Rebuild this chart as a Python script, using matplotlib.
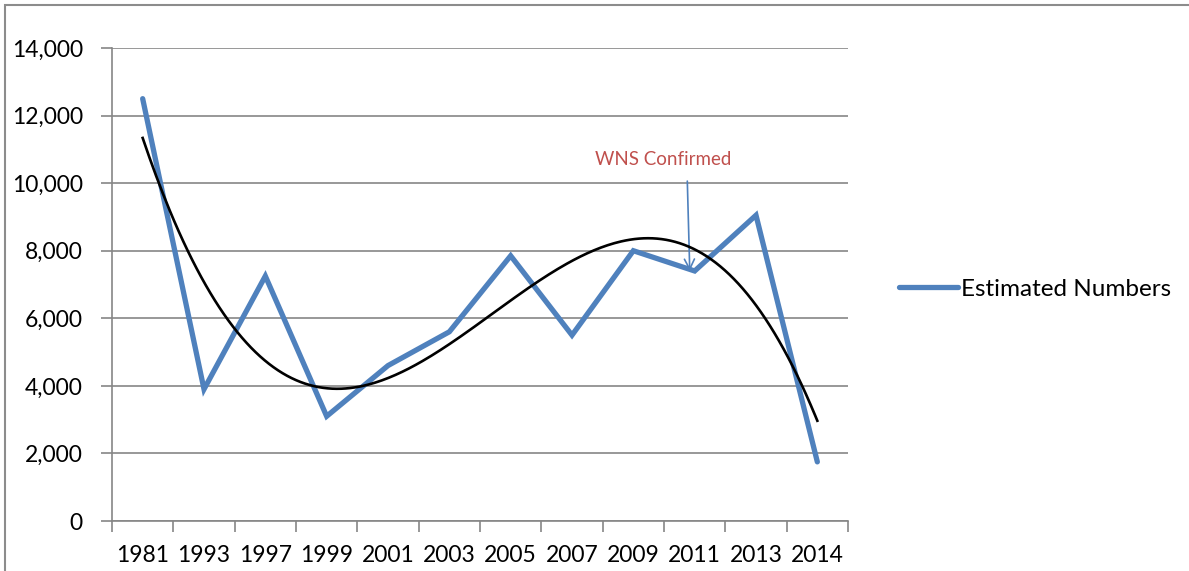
import numpy as np
import matplotlib.pyplot as plt
from matplotlib.patches import Rectangle

years = ['1981', '1993', '1997', '1999', '2001', '2003', '2005', '2007', '2009', '2011', '2013', '2014']
estimated = [12500, 3900, 7250, 3100, 4600, 5600, 7850, 5500, 8000, 7400, 9050, 1750]
yticks = [0, 2000, 4000, 6000, 8000, 10000, 12000, 14000]

plt.rcParams['font.family'] = ['Lato', 'DejaVu Sans']

fig = plt.figure(figsize=(11.89, 5.71), dpi=100)
ax = fig.add_axes([112/1189, 1-521/571, 736/1189, 473/571])

# outer chart border
fig.patches.append(Rectangle((5/1189, -0.2), 1.2, 1-5/571+0.2, transform=fig.transFigure,
                             fill=False, edgecolor='#8c8c8c', linewidth=1.5))

x = np.arange(1, len(years)+1)
ax.plot(x, estimated, color='#4F81BD', lw=3.8, solid_capstyle='round',
        solid_joinstyle='miter', label='Estimated Numbers', zorder=3)

# polynomial trendline (order 3)
coef = np.polyfit(x, estimated, 3)
xs = np.linspace(1, len(years), 300)
ax.plot(xs, np.polyval(coef, xs), color='black', lw=1.9, zorder=4)

ax.set_xlim(0.5, len(years)+0.5)
ax.set_ylim(0, 14000)
ax.set_yticks(yticks)
ax.set_yticklabels(['{:,}'.format(v) for v in yticks])
ax.set_xticks(x)
ax.set_xticklabels(years)
ax.set_xticks(np.arange(0.5, len(years)+1), minor=True)
ax.tick_params(axis='x', which='major', length=0, pad=17, labelsize=16.5)
ax.tick_params(axis='x', which='minor', length=8, color='#868686', width=1.2, direction='out')
ax.tick_params(axis='y', length=8, color='#868686', width=1.2, pad=13, labelsize=16.5)
ax.yaxis.grid(True, color='#868686', lw=1.2)
ax.set_axisbelow(True)
for s in ['top', 'right']:
    ax.spines[s].set_visible(False)
for s in ['left', 'bottom']:
    ax.spines[s].set_color('#868686')
    ax.spines[s].set_linewidth(1.2)

ax.text(9.48, 10710, 'WNS Confirmed', ha='center', va='center',
        color='#C0504D', fontsize=13.5)
ax.annotate('', xy=(9.92, 7400), xytext=(9.88, 10060),
            arrowprops=dict(arrowstyle='->', color='#4F81BD', lw=1.2,
                            shrinkA=0, shrinkB=0, mutation_scale=18))

ax.legend(loc='center left', bbox_to_anchor=(1.04, 0.49), frameon=False,
          fontsize=17.5, handlelength=2.4, handletextpad=0.15)

fig.savefig('out.png', dpi=100)
